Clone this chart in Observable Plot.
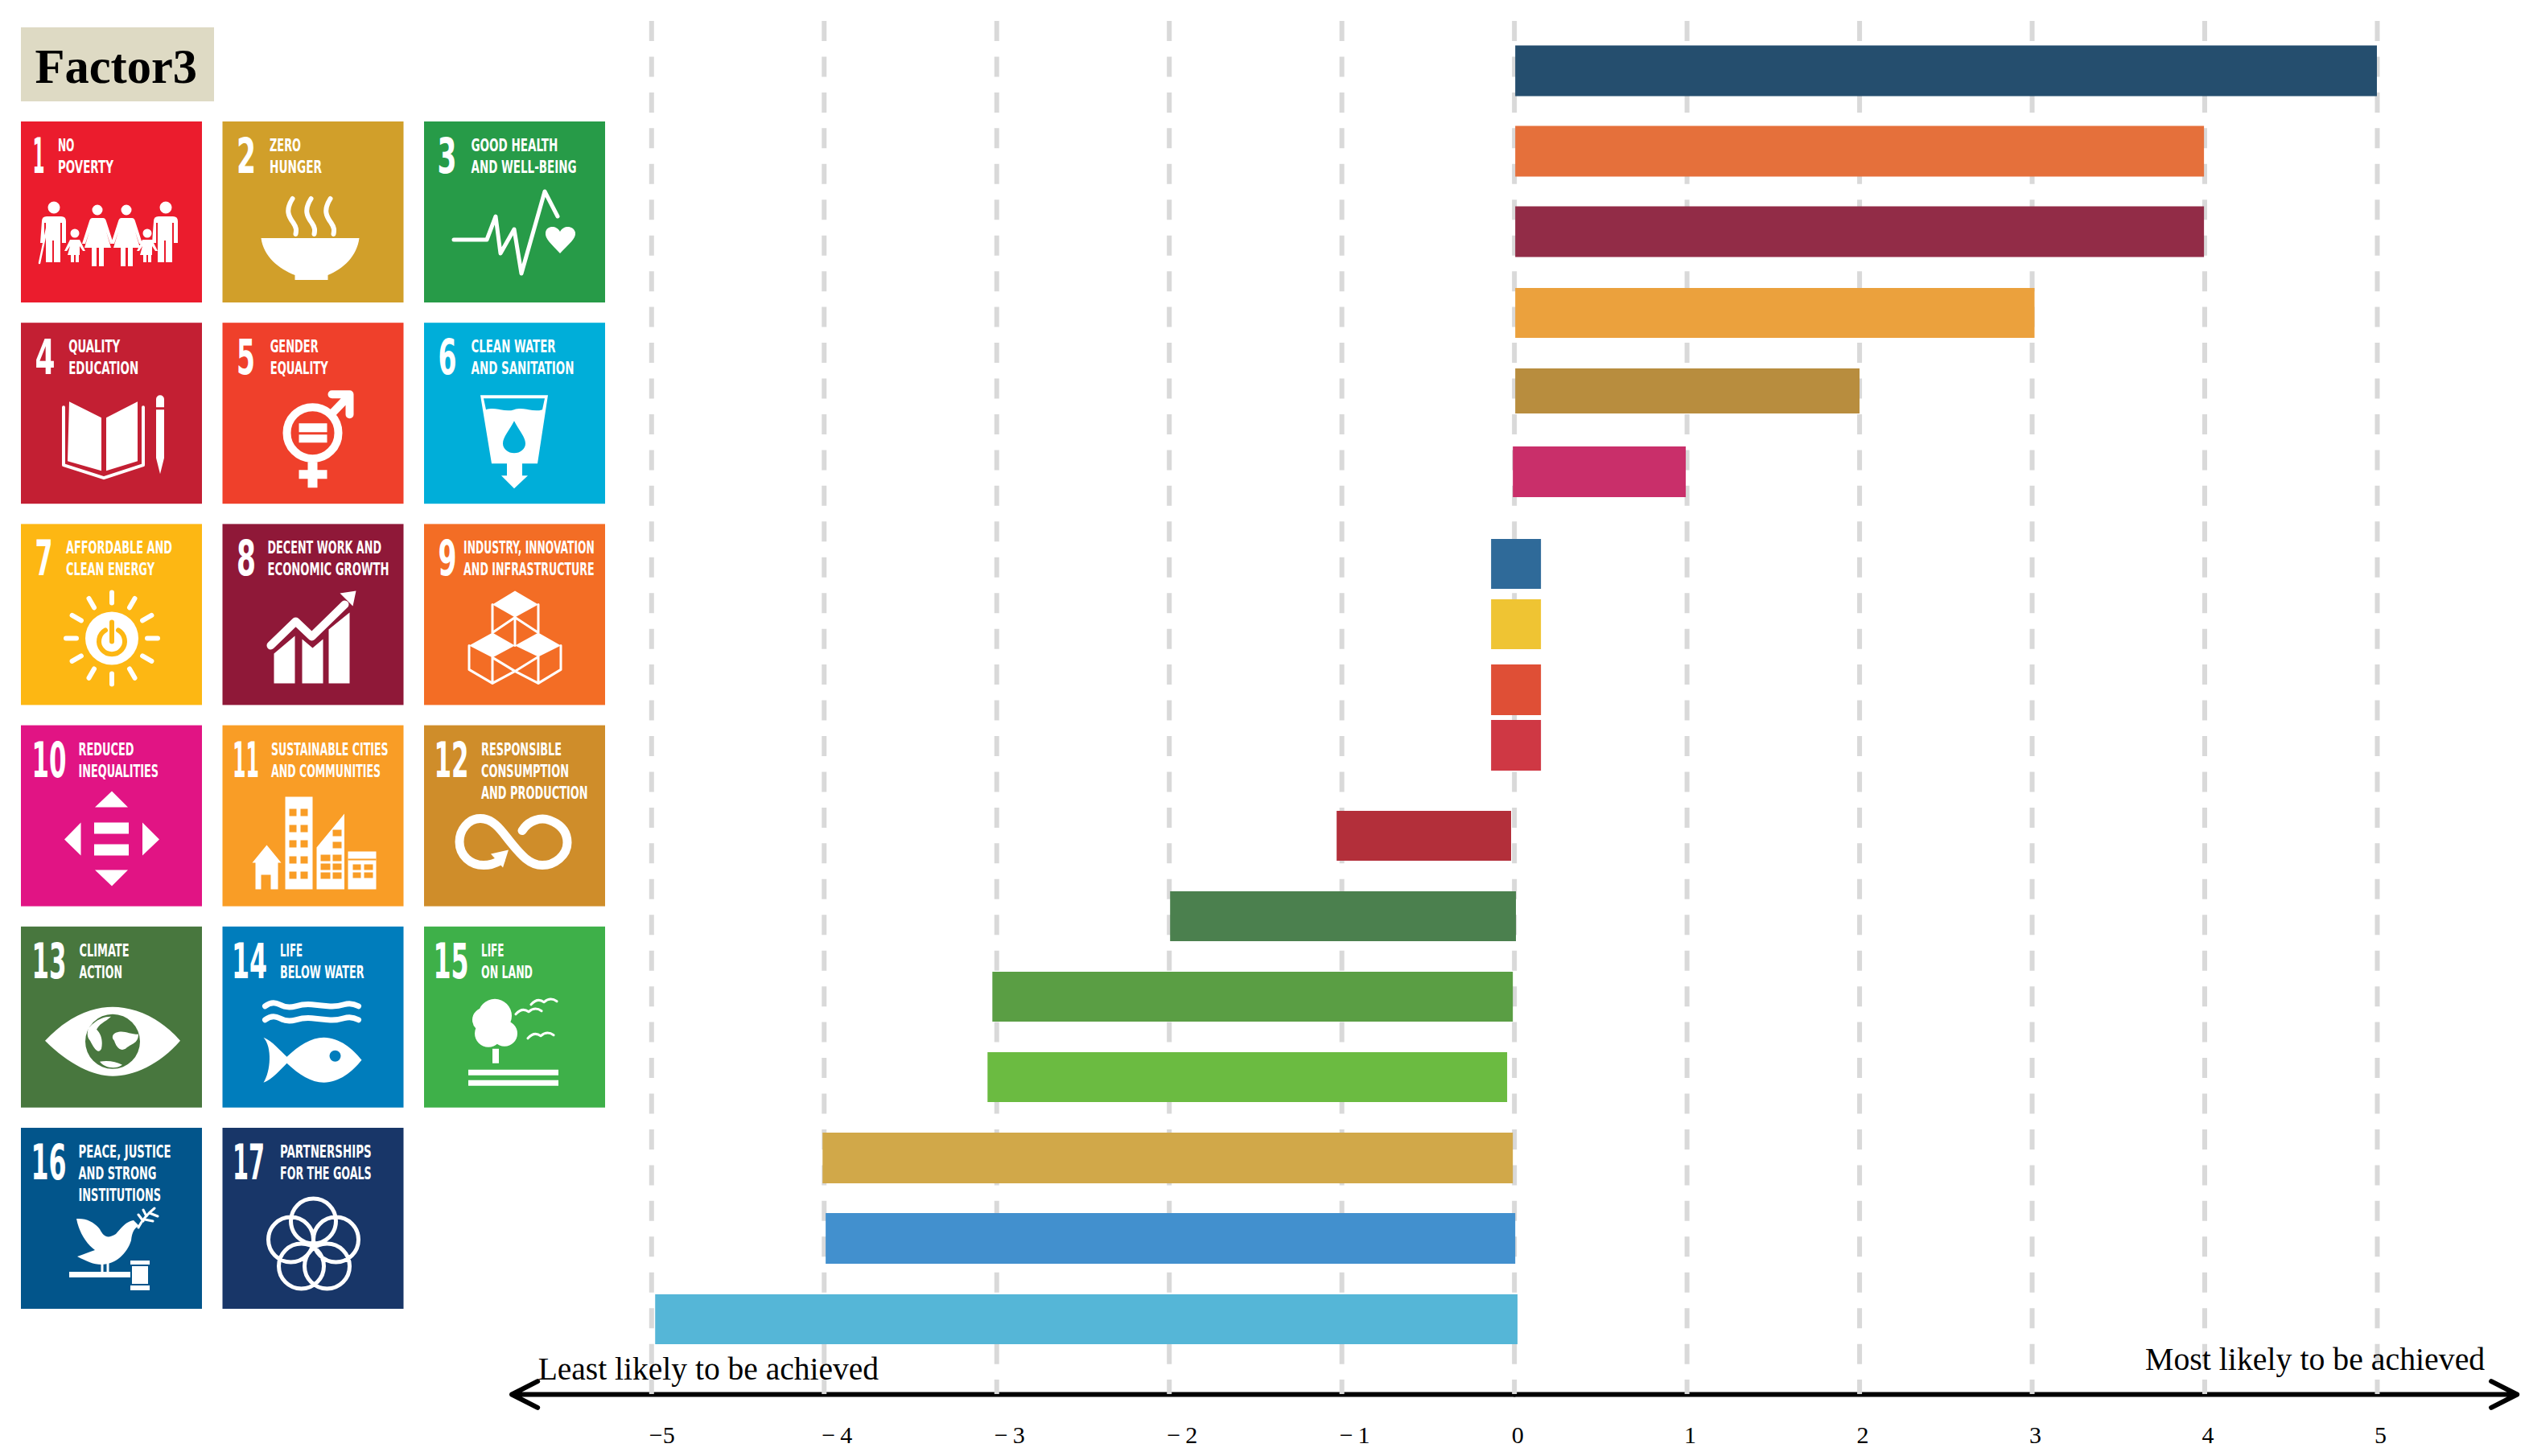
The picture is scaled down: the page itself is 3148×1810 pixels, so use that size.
<!DOCTYPE html>
<html>
<head>
<meta charset="utf-8">
<script src="https://cdn.jsdelivr.net/npm/d3@7"></script>
<script src="https://cdn.jsdelivr.net/npm/@observablehq/plot@0.6"></script>
<style>
html,body{margin:0;padding:0;background:#fff;}
#stage{position:relative;width:3148px;height:1810px;overflow:hidden;}
#stage svg{position:absolute;left:0;top:0;}
</style>
</head>
<body>
<div id="stage"></div>
<script>
// ---------- bar chart data ----------
const barGoals = ["SDG 17","SDG 9","SDG 8","SDG 11","SDG 12","SDG 10","SDG 16","SDG 7","SDG 5","SDG 1","SDG 4","SDG 13","SDG 3","SDG 15","SDG 2","SDG 14","SDG 6"];
const barStart = [0.007,0.007,0.007,0.007,0.007,-0.007,-0.133,-0.133,-0.133,-0.133,-1.028,-1.993,-3.023,-3.051,-4.007,-3.989,-4.977];
const barEnd   = [5,3.998,3.998,3.016,2.002,0.995,0.156,0.156,0.156,0.156,-0.017,0.011,-0.007,-0.04,-0.007,0.007,0.02];
const barRow   = [0,1,2,3.01,3.98,4.985,6.13,6.88,7.695,8.385,9.51,10.51,11.51,12.51,13.515,14.515,15.52];
const barThick = [0.63,0.63,0.63,0.62,0.56,0.63,0.62,0.62,0.63,0.63,0.62,0.62,0.62,0.62,0.63,0.63,0.62];
const barColor = ["#254E6E","#E5703B","#922C47","#EBA13D","#B88D3E","#C92F6A","#2F6A99","#EFC433","#DF4F36","#CF3844","#B32F3A","#4B804E","#5A9E44","#6BBB41","#D1A849","#4290CE","#55B6D7"];
const gridTicks = [-5,-4,-3,-2,-1,0,1,2,3,4,5];
const negTicks = [-5,-4,-3,-2,-1];
const posTicks = [0,1,2,3,4,5];
const negLabels = ["\u22125","\u2212\u20094","\u2212\u20093","\u2212\u20092","\u2212\u20091"];
const leastLabel = "Least likely to be achieved";
const mostLabel = "Most likely to be achieved";

const bars = barGoals.map((goal,i)=>({goal,x1:barStart[i],x2:barEnd[i],y1:barRow[i]-barThick[i]/2,y2:barRow[i]+barThick[i]/2,color:barColor[i]}));

const chart = Plot.plot({
  width:3148,height:1810,
  marginTop:0,marginRight:0,marginBottom:40,marginLeft:0,
  style:{background:"transparent"},
  x:{domain:[-5,5],range:[809.3,2954],axis:null},
  y:{domain:[-0.88,16.82],range:[0,1770],axis:null},
  color:{type:"identity"},
  marks:[
    Plot.arrow([-5.81,5.81],{x1:()=>0,x2:d=>d,y1:()=>16.45,y2:()=>16.45,stroke:"#000",strokeWidth:6,headLength:9,headAngle:54,strokeLinecap:"round",strokeLinejoin:"round"}),
    Plot.ruleX(gridTicks,{y1:-0.62,y2:16.45,stroke:"#d9d9d9",strokeWidth:6,strokeDasharray:"25,19.45"}),
    Plot.rect(bars,{x1:"x1",x2:"x2",y1:"y1",y2:"y2",fill:"color"}),
    Plot.text([leastLabel],{x:-5.658,y:16.26,text:d=>d,textAnchor:"start",lineAnchor:"bottom",fontFamily:"Liberation Serif",fontSize:39.5,fill:"#000"}),
    Plot.text([mostLabel],{x:3.655,y:16.14,text:d=>d,textAnchor:"start",lineAnchor:"bottom",fontFamily:"Liberation Serif",fontSize:39.8,fill:"#000"}),
    Plot.axisX(negTicks,{anchor:"bottom",label:null,tickSize:0,tickPadding:2,tickFormat:d=>negLabels[negTicks.indexOf(d)],textAnchor:"start",dx:-3,fontFamily:"Liberation Serif",fontSize:30,fill:"#000"}),
    Plot.axisX(posTicks,{anchor:"bottom",label:null,tickSize:0,tickPadding:2,tickFormat:d=>String(d),textAnchor:"middle",dx:4,fontFamily:"Liberation Serif",fontSize:30,fill:"#000"})
  ]
});

// ---------- goal tiles ----------
const tileNumbers = ["1","2","3","4","5","6","7","8","9","10","11","12","13","14","15","16","17"];
const tileColors = ["#EB1C2D","#D19F2A","#279B48","#C31F33","#EF402B","#00AED9","#FDB713","#8F1838","#F36D25","#E11484","#F99D26","#CF8D2A","#48773E","#007DBC","#3EB049","#02558B","#183668"];
const tileLines = [
  ["NO","POVERTY"],["ZERO","HUNGER"],["GOOD HEALTH","AND WELL-BEING"],
  ["QUALITY","EDUCATION"],["GENDER","EQUALITY"],["CLEAN WATER","AND SANITATION"],
  ["AFFORDABLE AND","CLEAN ENERGY"],["DECENT WORK AND","ECONOMIC GROWTH"],["INDUSTRY, INNOVATION","AND INFRASTRUCTURE"],
  ["REDUCED","INEQUALITIES"],["SUSTAINABLE CITIES","AND COMMUNITIES"],["RESPONSIBLE","CONSUMPTION","AND PRODUCTION"],
  ["CLIMATE","ACTION"],["LIFE","BELOW WATER"],["LIFE","ON LAND"],
  ["PEACE, JUSTICE","AND STRONG","INSTITUTIONS"],["PARTNERSHIPS","FOR THE GOALS"]
];
const factorLabel = "Factor3";

// tile layout, in pixels inside a 225-pixel tile
const numberLeft  = [14,17,16,17,17,17,17,17,17,13,12,12,13,11,11,12,12];
const numberWidth = [15,24,24,25,23,23,22,24,23,43,33,43,43,44,44,44,40];
const labelLeft   = [45.4,58,58,58.7,58.7,58,55.5,55.5,48.6,71,60,70.5,72,71,70.5,71,71];
const labelWidths = [[20.5,69],[39,65],[107.7,131],[64,87],[60,72],[105,128],[132,110],[141.5,151],[162.6,162.6],[69,99.5],[145.5,136],[100,109,132.6],[62,53.5],[28,104.5],[28.5,64],[115,97,102.5],[113.7,113.7]];
const unitX = 250.5, unitY = 250.2, tileSize = 225;

const tiles = tileNumbers.map((n,i)=>({n,col:i%3,row:Math.floor(i/3),color:tileColors[i],i}));
const numberRows = tiles.map(t=>({col:t.col+numberLeft[t.i]/unitX,row:t.row+63.5/unitY,text:t.n,w:numberWidth[t.i]}));
const labelRows = tiles.flatMap(t=>tileLines[t.i].map((text,k)=>({col:t.col+labelLeft[t.i]/unitX,row:t.row+(36.5+27*k)/unitY,text,w:labelWidths[t.i][k]})));

// ---------- pictograms, in pixels inside a tile ----------
const F=(d)=>({d,fill:"#fff"});
const S=(d,w)=>({d,stroke:"#fff",w});
const B=(d)=>({d,fill:"bg"});
const BS=(d,w)=>({d,stroke:"bg",w});
const circ=(x,y,r)=>`M${x-r} ${y}a${r} ${r} 0 1 0 ${2*r} 0a${r} ${r} 0 1 0 ${-2*r} 0Z`;
const man=x=>circ(x,107,7.5)+`M${x-15} 124q0-6 6-6h18q6 0 6 6v27h-5v-25h-2v49h-8v-27h-2v27h-8v-49h-2v25h-5z`;
const woman=x=>circ(x,110,6.5)+`M${x-7} 120h14q3 0 4 4l9 28h-4l-5-15l6 20h-9v23h-6v-23h-3v23h-6v-23h-9l6-20l-5 15h-4l9-28q1-4 4-4z`;
const kid=x=>circ(x,139,5.5)+`M${x-6} 147h12l7 14h-3l-4-6v11h3v0h-4v9h-4v-9h-2v9h-4v-9h-4l3-11l-4 6h-3z`;
const rays=(cx,cy,r1,r2)=>d3.range(12).map(k=>{const a=k*Math.PI/6;return `M${(cx+r1*Math.sin(a)).toFixed(1)} ${(cy-r1*Math.cos(a)).toFixed(1)}L${(cx+r2*Math.sin(a)).toFixed(1)} ${(cy-r2*Math.cos(a)).toFixed(1)}`;}).join("");
const bird=(x,y)=>`M${x-16} ${y+3}q8-9 16-3q8-7 16-1`;
const ICONS=[
 [F(man(41)+woman(95)+woman(131)+man(180)+kid(67)+kid(157)),S("M34 124L23 176",2.5)],
 [F("M48 145H170C167 168 150 183 131 191V197H90V191C70 183 51 168 48 145Z"),S("M87 96C78 110 82 118 88 126C92 132 92 135 91 140M110 96C101 110 105 118 111 126C115 132 115 135 114 140M134 96C125 110 129 118 135 126C139 132 139 135 138 140",6)],
 [S("M37 147H78L89 118L95 164L112 134L121 189L150 87L166 118",5),F("M169 164C158 152 150 146 151 138C152 130 164 128 169 137C174 128 186 130 188 138C189 146 180 152 169 164Z")],
 [F("M60 98L100 118V184L58 172ZM106 118L145 98V172L106 184Z"),S("M53 105V177L103 193L152 177V105",4),F("M168 95a5 5 0 0 1 10 0V105H168ZM168 108H178V168L173 188L168 168Z")],
 [S(circ(112,137,32),10),F("M95 125H130V136H95ZM95 139H130V149H95ZM106 173H118V183H130V194H118V205H106V194H95V183H106Z"),S("M135 114L158 90M136 89H158V114",10)],
 [F("M70 90H154L141 175H122V190H129L112 206L96 190H103V175H84Z"),B("M74 94H150L147 108C135 112 125 104 112 108C100 112 90 104 77 108Z"),B("M112 122C118 134 126 142 126 150A14 12 0 0 1 98 150C98 142 106 134 112 122Z")],
 [F(circ(113,142,33)),S(rays(113,142,44,57),6),BS("M105 132A16 16 0 1 0 121 132",6),BS("M113 122V146",6)],
 [F("M64 161L90 139V198H64ZM99 143L112 154L125 143V198H99ZM132 131L158 110V198H132Z"),S("M60 151L91 121L111 140L152 100",10),F("M146 86L166 83L162 102Z")],
 [F("M113 83L142 100L113 116L85 100Z"),F("M85 135L113 151L85 166L56 151Z"),F("M142 135L170 151L142 165L113 151Z"),S("M85 100V135M142 100V135M113 116V151M113 116L85 135M113 116L142 135M56 151V181L85 198L113 183L142 198L170 181V151M85 166V198M142 165V198M85 166L113 183M142 165L113 183",3)],
 [F("M113 82L133 102H92ZM92 180H133L113 200ZM74.5 121V162L54 142ZM151 121V162L172 142ZM91 121H134V135H91ZM91 148H134V162H91Z")],
 [F("M55 149L73 171H69V204H60V186H48V204H41V171H37ZM78 89H112V204H78ZM117 204V152L151.500 110V204ZM156 157H191V204H156Z"),B("M83 104h9v9h-9zM97 104h9v9h-9zM83 124h9v9h-9zM97 124h9v9h-9zM83 143h9v9h-9zM97 143h9v9h-9zM83 163h9v9h-9zM97 163h9v9h-9zM83 182h9v9h-9zM97 182h9v9h-9zM122 161h12v8h-12zM137 161h11v8h-11zM122 172h12v8h-12zM137 172h11v8h-11zM122 183h12v8h-12zM137 183h11v8h-11zM156 166h35v2h-35zM162 173h10v7h-10zM176 173h11v7h-11zM162 183h10v7h-10zM176 183h11v7h-11zM137 145h11v8h-11zM137 130h11v8h-11z")],
 [S("M122 131C130 118 145 114 156 118C172 124 178 134 178 146C178 162 162 174 147 174C130 174 118 158 108 146C98 134 88 116 70 116C55 116 44 130 44 145C44 162 58 174 74 174C82 174 88 172 95 168",11),F("M105 155L83 160L98 177Z")],
 [F("M30 142C60 110 90 100 114 100C140 100 172 112 198 142C172 172 140 186 114 186C90 186 60 172 30 142Z"),B(circ(114,143,34)),F("M84 126C92 118 100 112 112 112C106 118 98 120 94 128C100 134 102 142 100 152C96 160 90 150 86 142C82 138 82 132 84 126ZM118 132C128 128 134 134 146 134C146 146 136 146 130 152C122 156 118 148 116 142C112 138 114 134 118 132ZM98 168C108 166 118 168 126 172C118 178 104 176 98 168Z")],
 [S("M53 99q9-7 18-2t20 2t20-2t20 2t20-2t18 2M53 116q9-7 18-2t20 2t20-2t20 2t20-2t18 2",7),F("M51 138C62 142 72 155 80 162C95 148 110 138 126 138C145 138 162 152 173 166C162 180 145 194 126 194C110 194 95 184 80 170C72 178 62 190 51 194C60 180 62 150 51 138Z"),B(circ(140,161,7))],
 [F(circ(88,111,21)+circ(75,116,15)+circ(100,133,16)+circ(80,133,17)+"M85 152H93V170H85ZM55 178H167V185H55ZM55 191H167V198H55Z"),S(bird(130,106)+bird(149,94)+bird(145,136),3)],
 [F("M69 113C82 112 92 118 98 126C103 136 108 138 118 132C125 124 130 117 140 115L147 122C141 124 138 130 137 140C132 156 118 170 100 170C90 170 82 166 70 160C78 157 84 155 92 152C82 145 72 130 69 113ZM60 179H136V186H60ZM136 165H160V170H136ZM138 172H158V194H138ZM136 196H160V202H136Z"),S("M146 124C150 116 156 108 166 100M152 116L146 108M156 110L152 102M160 106L170 110M154 114L164 116",3),S("M101 170V180M108 168V180",3)],
 [S(circ(113,116,28)+circ(141,139,28)+circ(130,172,28)+circ(98,172,28)+circ(85,139,28),5)]
];

const tilePlot = Plot.plot({
  width:1200,height:1660,margin:0,
  style:{background:"transparent"},
  x:{domain:[0,3],range:[26,26+3*unitX],axis:null},
  y:{domain:[0,6],range:[151,151+6*unitY],axis:null},
  color:{type:"identity"},
  marks:[
    Plot.rect([factorLabel],{x1:()=>0,x2:()=>240/unitX,y1:()=>-117/unitY,y2:()=>-25/unitY,fill:()=>"#DEDAC4"}),
    Plot.text([factorLabel],{x:17/unitX,y:-49/unitY,text:d=>d,textAnchor:"start",lineAnchor:"bottom",fontFamily:"Liberation Serif",fontWeight:"bold",fontSize:60.5,fill:"#000"}),
    Plot.rect(tiles,{x1:"col",x2:d=>d.col+tileSize/unitX,y1:"row",y2:d=>d.row+tileSize/unitY,fill:"color"}),
    (index,{x,y})=>{
      const g=d3.create("svg:g");
      tiles.forEach(t=>{
        const tg=g.append("g").attr("transform",`translate(${x(t.col)},${y(t.row)})`);
        ICONS[t.i].forEach(p=>{
          const el=tg.append("path").attr("d",p.d);
          if(p.fill) el.attr("fill",p.fill==="bg"?t.color:p.fill);
          else el.attr("fill","none").attr("stroke",p.stroke==="bg"?t.color:p.stroke).attr("stroke-width",p.w).attr("stroke-linecap","round").attr("stroke-linejoin","round");
        });
      });
      return g.node();
    },
    Plot.text(numberRows,{x:"col",y:"row",text:"text",textAnchor:"start",lineAnchor:"bottom",fontFamily:"Liberation Sans Narrow, DejaVu Sans Condensed, Roboto",fontWeight:"bold",fontSize:60,fill:"#fff",className:"tile-number"}),
    Plot.text(labelRows,{x:"col",y:"row",text:"text",textAnchor:"start",lineAnchor:"bottom",fontFamily:"Liberation Sans Narrow, DejaVu Sans Condensed, Roboto",fontWeight:"bold",fontSize:22,fill:"#fff",className:"tile-label"})
  ]
});

// fit each tile text to its measured width
const fit=(sel,rows)=>tilePlot.querySelectorAll(sel+" text").forEach((el,i)=>{
  el.setAttribute("textLength",rows[i].w);
  el.setAttribute("lengthAdjust","spacingAndGlyphs");
});
fit(".tile-number",numberRows);
fit(".tile-label",labelRows);

const stage=document.getElementById("stage");
stage.appendChild(chart);
stage.appendChild(tilePlot);
</script>
</body>
</html>
